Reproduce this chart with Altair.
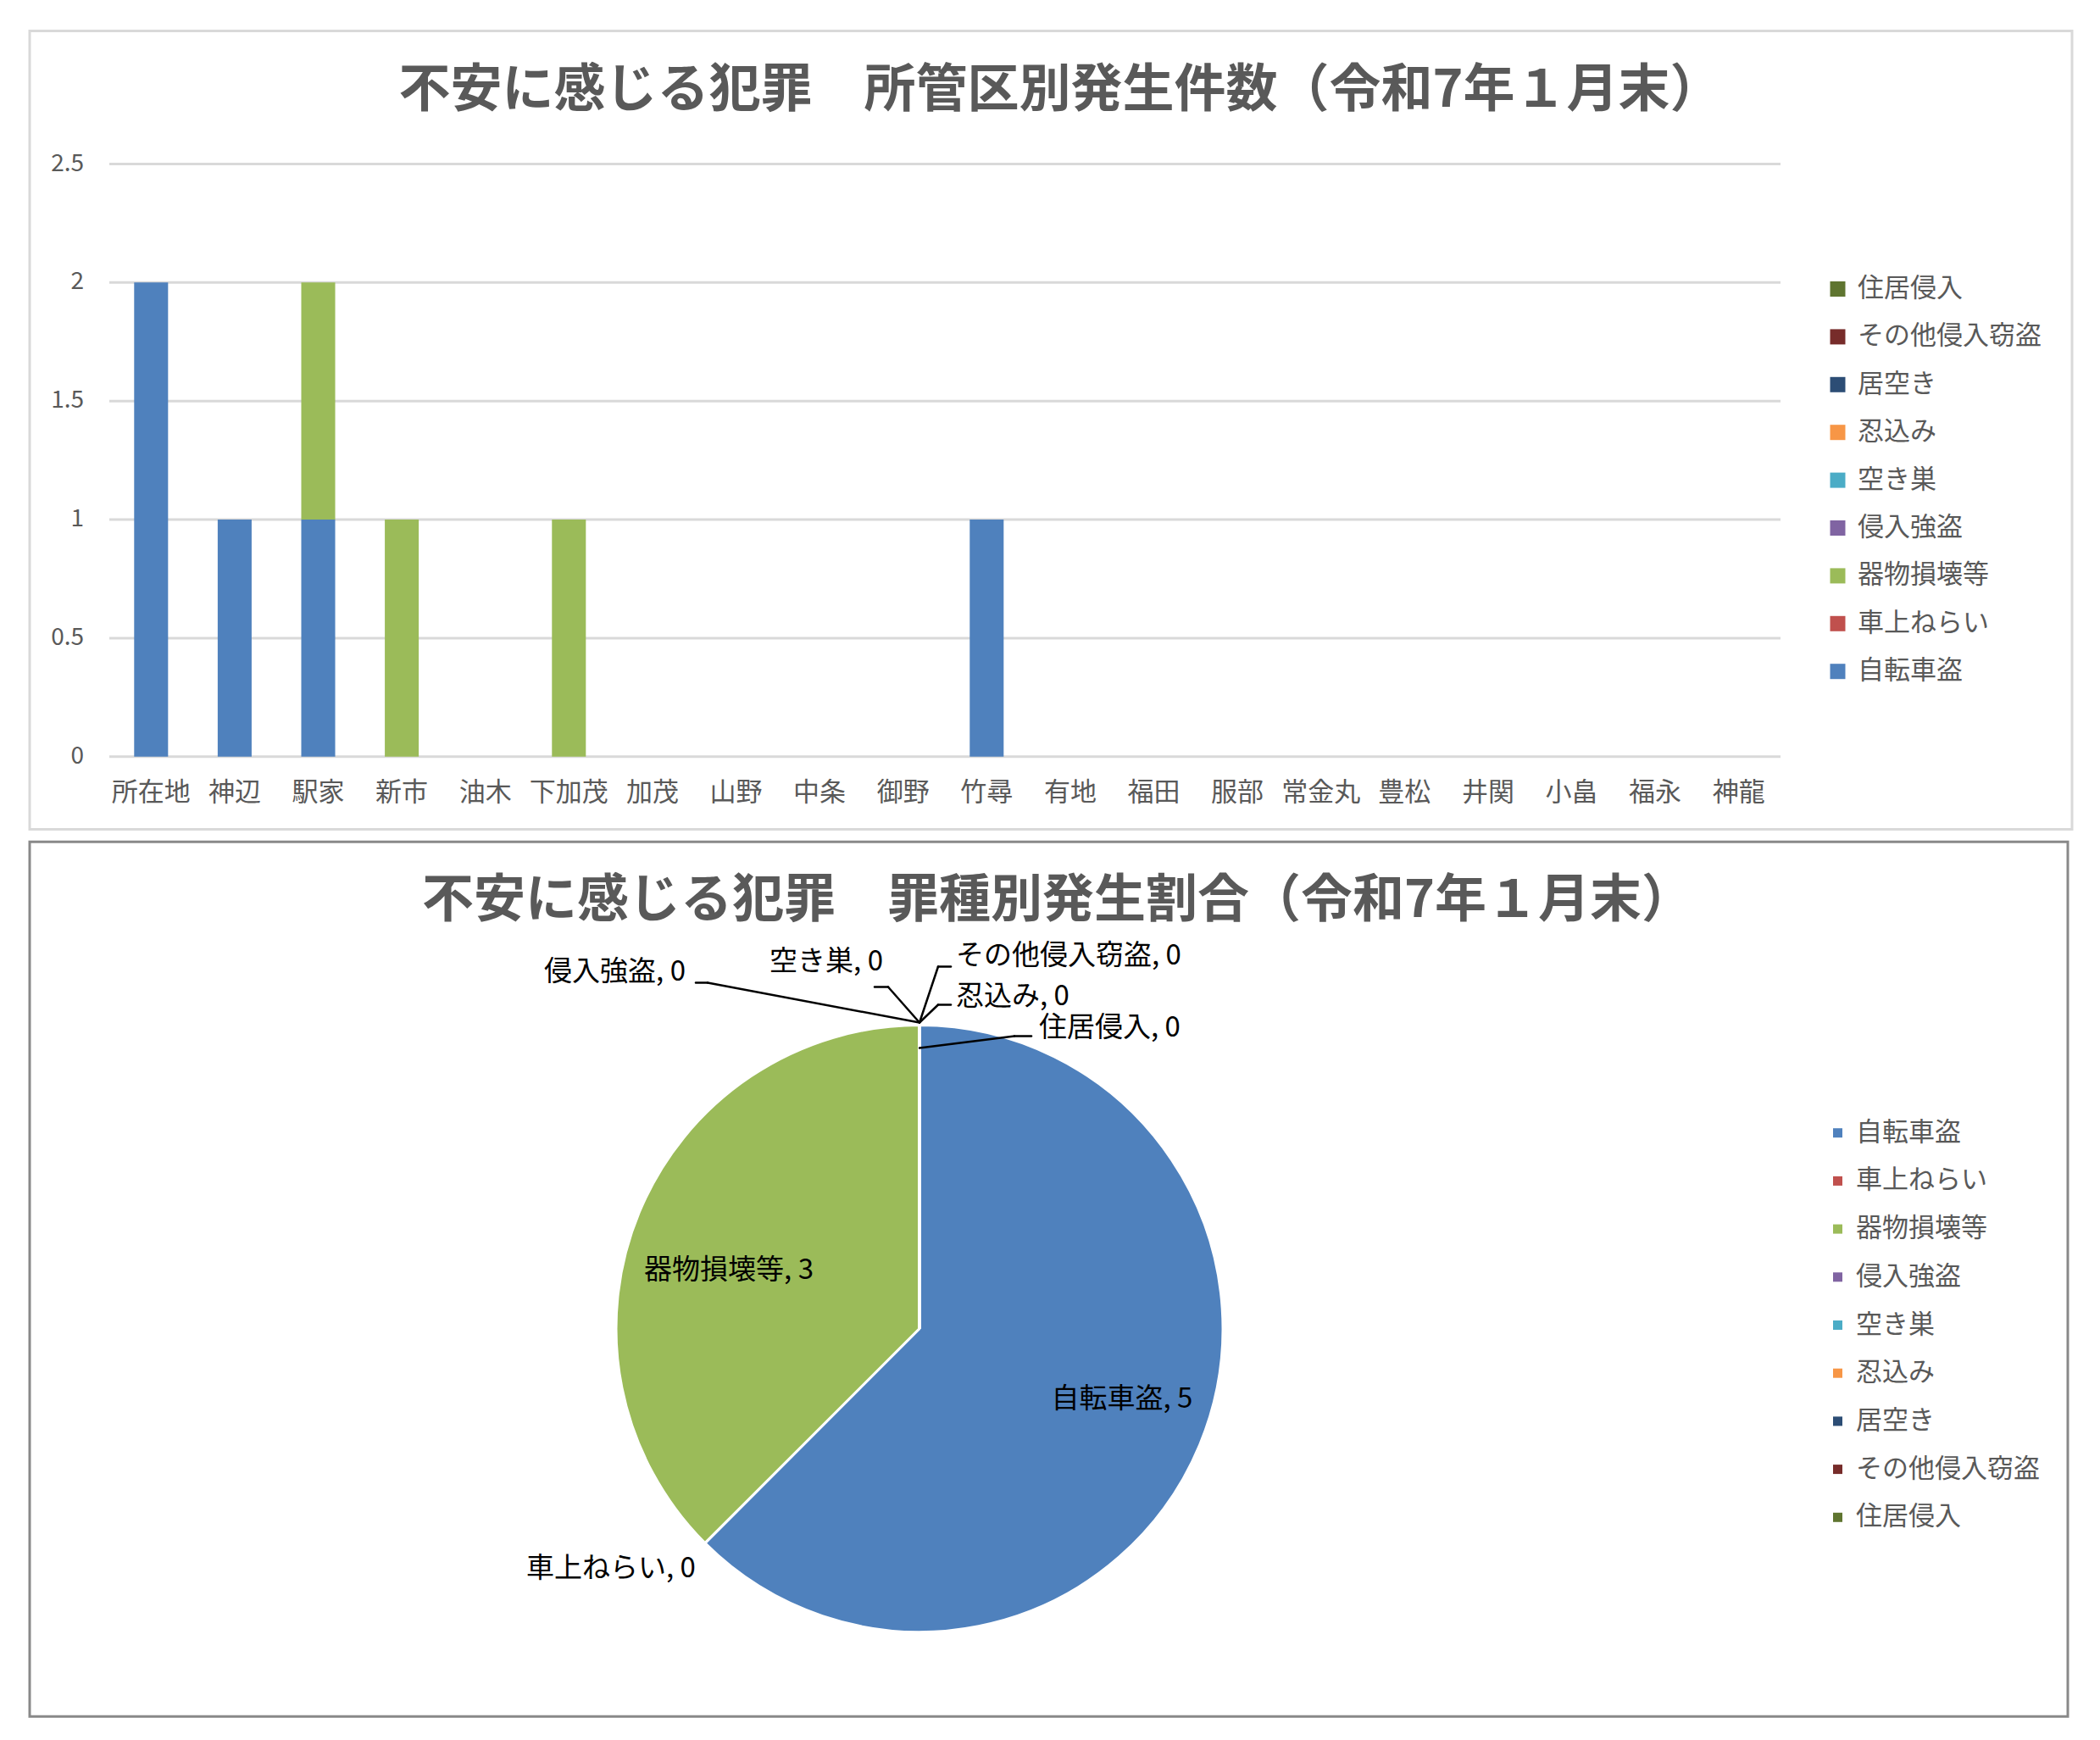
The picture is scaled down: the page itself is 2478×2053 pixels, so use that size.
import altair as alt
import pandas as pd

FONT = "Noto Sans CJK JP"
GREY = "#595959"

title_top = "不安に感じる犯罪　所管区別発生件数（令和7年１月末）"
title_pie = "不安に感じる犯罪　罪種別発生割合（令和7年１月末）"

areas = ["所在地", "神辺", "駅家", "新市", "油木", "下加茂", "加茂", "山野", "中条", "御野",
         "竹尋", "有地", "福田", "服部", "常金丸", "豊松", "井関", "小畠", "福永", "神龍"]

crimes = ["自転車盗", "車上ねらい", "器物損壊等", "侵入強盗", "空き巣", "忍込み", "居空き",
          "その他侵入窃盗", "住居侵入"]
colors = ["#4F81BD", "#C0504D", "#9BBB59", "#8064A2", "#4BACC6", "#F79646", "#2C4D75",
          "#772C2A", "#5F7530"]

y_ticks = [0, 0.5, 1, 1.5, 2, 2.5]

# counts per area (same order as areas)
s_bike = [2, 1, 1, 0, 0, 0, 0, 0, 0, 0, 1, 0, 0, 0, 0, 0, 0, 0, 0, 0]
s_car = [0, 0, 0, 0, 0, 0, 0, 0, 0, 0, 0, 0, 0, 0, 0, 0, 0, 0, 0, 0]
s_vandal = [0, 0, 1, 1, 0, 1, 0, 0, 0, 0, 0, 0, 0, 0, 0, 0, 0, 0, 0, 0]
s_robbery = [0, 0, 0, 0, 0, 0, 0, 0, 0, 0, 0, 0, 0, 0, 0, 0, 0, 0, 0, 0]
s_akisu = [0, 0, 0, 0, 0, 0, 0, 0, 0, 0, 0, 0, 0, 0, 0, 0, 0, 0, 0, 0]
s_shinobi = [0, 0, 0, 0, 0, 0, 0, 0, 0, 0, 0, 0, 0, 0, 0, 0, 0, 0, 0, 0]
s_iaki = [0, 0, 0, 0, 0, 0, 0, 0, 0, 0, 0, 0, 0, 0, 0, 0, 0, 0, 0, 0]
s_other = [0, 0, 0, 0, 0, 0, 0, 0, 0, 0, 0, 0, 0, 0, 0, 0, 0, 0, 0, 0]
s_house = [0, 0, 0, 0, 0, 0, 0, 0, 0, 0, 0, 0, 0, 0, 0, 0, 0, 0, 0, 0]
series = [s_bike, s_car, s_vandal, s_robbery, s_akisu, s_shinobi, s_iaki, s_other, s_house]

# totals by crime type (pie)
pie_counts = [5, 0, 3, 0, 0, 0, 0, 0, 0]

rows = []
for ci, (crime, vals) in enumerate(zip(crimes, series)):
    for a, v in zip(areas, vals):
        rows.append({"area": a, "crime": crime, "count": v, "ord": ci})
bar_df = pd.DataFrame(rows)
tick_df = pd.DataFrame({"v": y_ticks})
area_df = pd.DataFrame({"area": areas})
pie_df = pd.DataFrame({"crime": crimes, "count": pie_counts, "ord": list(range(len(crimes)))})

# ---------------- top chart ----------------
W1, H1 = 2410, 942
X0, X1 = 94, 2066
xscale = alt.Scale(domain=areas, range=[X0, X1], paddingInner=0.594, paddingOuter=0.297)
yscale = alt.Scale(domain=[0, 2.5], range=[856.3, 157], nice=False)

grid = alt.Chart(tick_df).mark_rule(color="#d9d9d9", strokeWidth=3).encode(
    y=alt.Y("v:Q", scale=yscale, axis=None),
    x=alt.value(X0), x2=alt.value(X1),
)
ylab = alt.Chart(tick_df).mark_text(
    align="right", baseline="middle", fontSize=28, color=GREY, font=FONT
).encode(
    y=alt.Y("v:Q", scale=yscale, axis=None),
    x=alt.value(64),
    text=alt.Text("v:Q", format="~g"),
)
bars = alt.Chart(bar_df).mark_bar().encode(
    x=alt.X("area:N", scale=xscale, axis=None),
    y=alt.Y("count:Q", stack="zero", scale=yscale, axis=None),
    color=alt.Color(
        "crime:N",
        scale=alt.Scale(domain=crimes[::-1], range=colors[::-1]),
        legend=alt.Legend(
            orient="none", legendX=2118, legendY=289, direction="vertical",
            title=None, symbolType="square", symbolSize=324, symbolStrokeWidth=0,
            labelFontSize=31, labelFont=FONT, labelColor=GREY, rowPadding=24.4,
            labelOffset=8, labelLimit=0, padding=0,
        ),
    ),
    order=alt.Order("ord:Q"),
)
xlab = alt.Chart(area_df).mark_text(
    baseline="middle", fontSize=31, color=GREY, font=FONT
).encode(
    x=alt.X("area:N", scale=xscale, axis=None),
    y=alt.value(899),
    text="area:N",
)
ttl1 = alt.Chart(pd.DataFrame({"t": [title_top]})).mark_text(
    fontSize=61, fontWeight="bold", color=GREY, font=FONT, align="center", baseline="middle"
).encode(text="t:N", x=alt.value(1216), y=alt.value(71.3))

top = alt.layer(grid, ylab, bars, xlab, ttl1).properties(
    width=W1, height=H1,
    view=alt.ViewBackground(stroke="#d9d9d9", strokeWidth=3),
)

# ---------------- pie chart ----------------
W2, H2 = 2405, 1032
CX, CY, R = 1050, 574.3, 358

arc = alt.Chart(pie_df).mark_arc(
    outerRadius=R, stroke="white", strokeWidth=3, strokeJoin="bevel"
).encode(
    theta=alt.Theta("count:Q", stack=True),
    color=alt.Color(
        "crime:N",
        scale=alt.Scale(domain=crimes, range=colors),
        legend=alt.Legend(
            orient="none", legendX=2118, legendY=328, direction="vertical",
            title=None, symbolType="square", symbolSize=121, symbolStrokeWidth=0,
            labelFontSize=31, labelFont=FONT, labelColor=GREY, rowPadding=24.7,
            labelOffset=6, labelLimit=0, padding=0,
        ),
    ),
    order=alt.Order("ord:Q"),
    x=alt.value(CX), y=alt.value(CY),
)

lab_base = alt.Chart(pie_df).transform_window(
    cum="sum(count)", sort=[alt.SortField("ord")]
).transform_calculate(
    mid="datum.cum - datum.count / 2",
    lbl="datum.crime + ', ' + datum.count",
)

# (crime, radius, dx, dy, align)
label_style = [
    ("自転車盗", 250, 8, -12, "center"),
    ("器物損壊等", 250, 6, 27, "center"),
    ("車上ねらい", R, -11, 30, "right"),
    ("侵入強盗", R, -276, -63, "right"),
    ("空き巣", R, -43, -75, "right"),
    ("その他侵入窃盗", R, 43, -82, "left"),
    ("忍込み", R, 43, -34, "left"),
    ("住居侵入", R, 141, 3, "left"),
]
labels = []
for name, rad, dx, dy, al in label_style:
    labels.append(
        lab_base.transform_filter(alt.datum.crime == name).mark_text(
            radius=rad, dx=dx, dy=dy, align=al, baseline="middle",
            fontSize=33, font=FONT, color="black",
        ).encode(
            theta=alt.Theta("mid:Q"),
            text="lbl:N",
            x=alt.value(CX), y=alt.value(CY),
        )
    )

OX2, OY2 = 34, 988.7
leader_segments = [
    ((820, 1155), (834, 1155)), ((834, 1155), (1084, 1202)),
    ((1031, 1160), (1047, 1160)), ((1047, 1160), (1084, 1202)),
    ((1121, 1136), (1106, 1136)), ((1106, 1136), (1084, 1202)),
    ((1121, 1181), (1106, 1181)), ((1106, 1181), (1084, 1202)),
    ((1216, 1218), (1196, 1218)), ((1196, 1218), (1084, 1232)),
]
one = pd.DataFrame({"k": [0]})
leaders = []
for (xa, ya), (xb, yb) in leader_segments:
    leaders.append(
        alt.Chart(one).mark_rule(color="black", strokeWidth=2.5, strokeCap="round").encode(
            x=alt.value(xa - OX2), y=alt.value(ya - OY2),
            x2=alt.value(xb - OX2), y2=alt.value(yb - OY2),
        )
    )

ttl2 = alt.Chart(pd.DataFrame({"t": [title_pie]})).mark_text(
    fontSize=61, fontWeight="bold", color=GREY, font=FONT, align="center", baseline="middle"
).encode(text="t:N", x=alt.value(1213), y=alt.value(70.3))

bottom = alt.layer(arc, *leaders, *labels, ttl2).properties(
    width=W2, height=H2,
    view=alt.ViewBackground(stroke="#898989", strokeWidth=3),
)

chart = alt.vconcat(top, bottom, spacing=10.7).resolve_scale(
    color="independent"
).resolve_legend(color="independent").properties(
    padding={"left": 25, "top": 26.5, "right": 5, "bottom": 5}
).configure(font=FONT)

chart.save("out.html", embed_options={"renderer": "svg", "actions": False})
